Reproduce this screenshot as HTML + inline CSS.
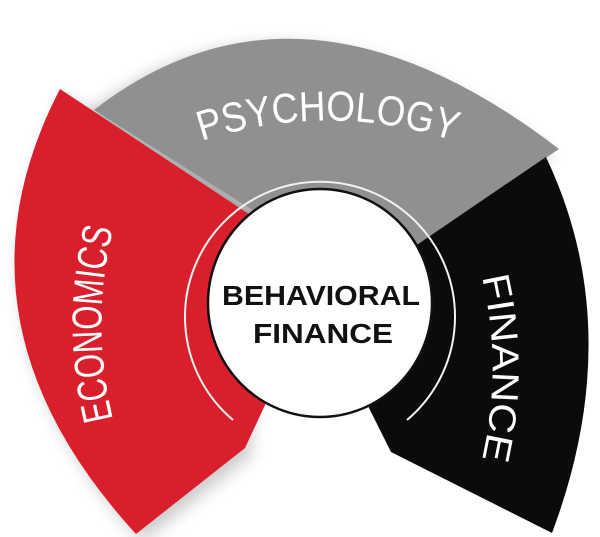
<!DOCTYPE html>
<html><head><meta charset="utf-8"><style>
html,body{margin:0;padding:0;background:#fff;width:600px;height:537px;overflow:hidden}
svg{display:block}
</style></head><body>
<svg width="600" height="537" viewBox="0 0 600 537" xmlns="http://www.w3.org/2000/svg">
<defs>
<filter id="sh" x="-20%" y="-20%" width="140%" height="140%"><feGaussianBlur stdDeviation="8"/></filter>
<path id="pPsy" d="M159,158 A400 400 0 0 1 497,158"/>
<path id="pEco" d="M139,493 A400 400 0 0 1 139,155"/>
<path id="pFin" d="M455,199 A400 400 0 0 1 455,537"/>
</defs>
<!-- shadows -->
<path d="M94,110 Q300,-50 559,149 L408,249 L240,215 Z" fill="#000" opacity="0.25" filter="url(#sh)" transform="translate(-8,6)"/>
<path d="M60,89 Q-60,320 136,534 L245,448 L255,210 Z" fill="#000" opacity="0.2" filter="url(#sh)" transform="translate(6,8)"/>
<!-- gray -->
<path d="M94,110 Q300,-50 559,149 L380,270 L300,240 Z" fill="#8f9092"/>
<!-- black -->
<path d="M546,157 Q628,330 552,533 L391,452 L330,330 L380,270 Z" fill="#0b0b0b"/>
<!-- red -->
<path d="M60,89 Q-60,320 136,534 L245,448 L300,330 L285,238 Z" fill="#d91f2b"/>
<!-- ring line -->
<path d="M233,420 A135 135 0 1 1 407,420" fill="none" stroke="#f2f2f2" stroke-width="2"/>
<!-- center circle -->
<ellipse cx="320" cy="303" rx="112" ry="114" fill="#fff" stroke="#111" stroke-width="2.5"/>
<text x="321" y="305" text-anchor="middle" font-family="Liberation Sans, sans-serif" font-weight="bold" font-size="28" fill="#111" textLength="198" lengthAdjust="spacingAndGlyphs">BEHAVIORAL</text>
<text x="323" y="343" text-anchor="middle" font-family="Liberation Sans, sans-serif" font-weight="bold" font-size="28" fill="#111" textLength="140" lengthAdjust="spacingAndGlyphs">FINANCE</text>
<!-- labels -->
<text font-family="Liberation Sans, sans-serif" font-size="42" fill="#fff" textLength="257" lengthAdjust="spacingAndGlyphs"><textPath href="#pPsy" startOffset="50%" text-anchor="middle">PSYCHOLOGY</textPath></text>
<text font-family="Liberation Sans, sans-serif" font-size="42" fill="#fff" textLength="192" lengthAdjust="spacingAndGlyphs"><textPath href="#pEco" startOffset="50%" text-anchor="middle">ECONOMICS</textPath></text>
<text font-family="Liberation Sans, sans-serif" font-size="38" fill="#fff" textLength="184" lengthAdjust="spacingAndGlyphs"><textPath href="#pFin" startOffset="50%" text-anchor="middle">FINANCE</textPath></text>
</svg>
</body></html>
